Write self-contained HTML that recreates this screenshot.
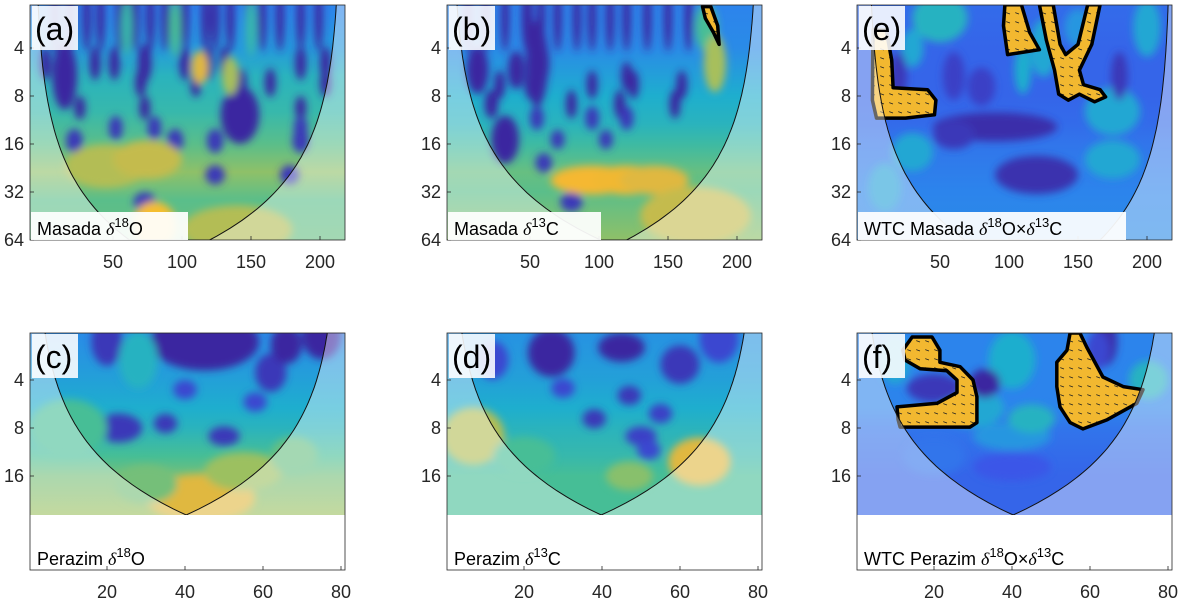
<!DOCTYPE html>
<html><head><meta charset="utf-8">
<style>
html,body{margin:0;padding:0;background:#fff;}
svg{display:block;font-family:"Liberation Sans",sans-serif;}
</style></head>
<body>
<svg id="fig" width="1184" height="600" viewBox="0 0 1184 600">
<defs>
<filter id="blur" x="-20%" y="-20%" width="140%" height="140%"><feGaussianBlur stdDeviation="4"/></filter>
</defs>
</svg>
<script>
// ---------- DATA ----------
const topXTicks=[50,100,150,200];
const topYTicks=[4,8,16,32,64];
const botXTicks=[20,40,60,80];
const botYTicks=[4,8,16];

// panel (a) Masada d18O
const aBaseP=[2.2,4,6,10,16,24,36,64];
const aBaseV=[0.3,0.36,0.46,0.5,0.58,0.66,0.58,0.6];
const aBlobX=[8,19,31,41,55,66,77,88,102,117,124,135,149,158,171,186,199, 1,15,37,51,73,102,119,131,186,204, 15,70,110,142,164,204, 142,26,73,186, 52,80,186, 22,95,124,186, 37,124,178, 73, 113,135,45,75,80,140, 60,95,150];
const aBlobP=[2.6,2.6,2.6,2.6,2.6,2.6,2.6,2.6,2.6,2.6,2.6,2.6,2.6,2.6,2.6,2.6,2.6, 5,5,5,5,5,5,5,5,5,5, 6,6.6,6.6,6.6,6.6,6.6, 10.5,9.5,9.5,9.5, 12.7,12.7,12.7, 15.3,15.3,15.3,15.3, 25,25,25, 37, 5.3,6,22,20,52,55, 3,3,3];
const aBlobV=[0,0,0,0,0,0,0,0,0,0,0,0,0,0,0,0,0, 0,0,0,0,0,0,0,0,0,0, 0,0,0,0,0,0, 0,0,0,0, 0.05,0.05,0.05, 0.05,0.05,0.05,0.05, 0.05,0.05,0.05, 0.05, 0.8,0.7,0.72,0.75,0.92,0.72, 0.5,0.55,0.5];
const aBlobW=[3,3,3,3,3,3,3,3,3,3,3,3,3,3,3,3,3, 4,5,4,4,5,4,4,4,4,4, 9,4,4,5,4,4, 14,4,4,4, 5,5,5, 6,6,6,6, 7,7,7, 8, 6,6,30,25,16,40, 4,4,4];
const aBlobH=[0.7,0.7,0.7,0.7,0.7,0.7,0.7,0.7,0.7,0.7,0.7,0.7,0.7,0.7,0.7,0.7,0.7, 0.35,0.4,0.35,0.35,0.4,0.35,0.35,0.35,0.35,0.35, 0.7,0.3,0.3,0.3,0.3,0.3, 0.6,0.25,0.25,0.25, 0.25,0.25,0.25, 0.25,0.25,0.25,0.25, 0.2,0.2,0.2, 0.2, 0.35,0.4,0.45,0.4,0.5,0.5, 0.6,0.6,0.6];

// panel (b) Masada d13C
const bBaseP=[2.2,4,8,12,16,24,32,64];
const bBaseV=[0.3,0.32,0.42,0.46,0.52,0.6,0.58,0.66];
const bBlobX=[5,18,32,48,58,70,84,95,108,120,135,150,165, 12,40,55,60,120, 28,50,95,125,160, 22,80,115,155, 55,95,120, 32,70,105, 60,80, 95,120,140, 178,184,170];
const bBlobP=[2.6,2.6,2.6,2.6,2.6,2.6,2.6,2.6,2.6,2.6,2.6,2.6,2.6, 5.5,5.5,5,5,6, 6.8,6.8,6.8,6.8,6.8, 9,9,9,9, 11,11,11, 15,15,15, 21,37, 27,27,27, 3,5,45];
const bBlobV=[0,0,0,0,0,0,0,0,0,0,0,0,0, 0,0,0,0,0, 0,0,0,0,0, 0,0,0,0, 0.05,0.05,0.05, 0,0.05,0.05, 0.05,0.05, 0.9,0.88,0.8, 0.55,0.7,0.75];
const bBlobW=[3,3,3,4,3,3,3,3,3,3,3,3,3, 8,6,8,4,4, 4,4,4,4,4, 5,4,4,4, 5,5,5, 10,5,5, 6,8, 30,25,25, 8,8,40];
const bBlobH=[0.7,0.7,0.7,0.7,0.7,0.7,0.7,0.7,0.7,0.7,0.7,0.7,0.7, 0.5,0.4,0.9,0.4,0.3, 0.3,0.3,0.3,0.3,0.3, 0.3,0.3,0.3,0.3, 0.25,0.25,0.25, 0.5,0.2,0.2, 0.2,0.2, 0.3,0.3,0.3, 0.5,0.6,0.6];

// panel (e) WTC Masada
const eBaseP=[2.2,4,8,12,16,24,32,64];
const eBaseV=[0.22,0.2,0.2,0.22,0.25,0.28,0.3,0.32];
const eBlobX=[50,30,110,125,90,120,60,30,175,10,150,200,80,175,20,60,180];
const eBlobP=[2.6,4,5.5,4,12.5,25,14,18,10,30,3,3,7,20,6,6,6];
const eBlobV=[0.45,0.4,0.42,0.4,0.02,0.03,0.05,0.4,0.4,0.38,0.35,0.4,0.08,0.4,0.05,0.08,0.05];
const eBlobW=[20,8,6,10,45,30,15,15,20,12,10,10,10,20,6,8,6];
const eBlobH=[0.5,0.4,0.5,0.6,0.3,0.4,0.3,0.4,0.5,0.5,0.4,0.6,0.4,0.4,0.5,0.5,0.5];
const eRegX=[[1.4,11,15,16,41,47,46,25,4,1],[97,109,115,122,99,96],[122,132,137,141,150,157,166,160,151,154,166,170,162,151,143,136,133,127]];
const eRegP=[[3.08,3.08,4.76,7.1,7.3,8.5,10.5,11,11,8.5],[2.14,2.14,3.2,4.1,4.4,2.9],[2.14,2.14,3.8,4.4,3.8,2.14,2.14,3.8,5.5,6.8,7.3,8.1,8.7,7.8,8.5,7.8,5.5,3.56]];

// panel (c) Perazim d18O
const cBaseP=[2,4,6,8,12,16,28];
const cBaseV=[0.32,0.38,0.42,0.46,0.55,0.62,0.68];
const cBlobX=[45,20,62,66,75,23,35,50,40,58,10,44,55,68,30,28];
const cBlobP=[2.3,2.3,3.6,2.4,2.1,8,7.5,9,4.6,5.5,8,22,15,12,18,3];
const cBlobV=[0,0.05,0.05,0,0,0.05,0.05,0.05,0.1,0.1,0.55,0.8,0.68,0.6,0.62,0.45];
const cBlobW=[14,4,4,4,5,6,3,4,3,3,10,14,10,6,8,5];
const cBlobH=[0.6,0.5,0.4,0.4,0.5,0.3,0.2,0.2,0.2,0.2,0.6,0.5,0.4,0.4,0.4,0.6];

// panel (d) Perazim d13C
const dBaseP=[2,4,6,8,12,16,28];
const dBaseV=[0.34,0.38,0.42,0.46,0.5,0.55,0.55];
const dBlobX=[27,45,60,47,38,55,12,30,50,7,65,47,70,20,52];
const dBlobP=[2.7,2.5,3.2,5,7,6.5,3,4.5,9,9,13,16,2.2,12,11];
const dBlobV=[0,0,0.05,0.05,0.05,0.08,0.1,0.1,0.08,0.72,0.8,0.65,0.1,0.55,0.1];
const dBlobW=[6,6,5,3,3,3,4,3,4,8,8,6,5,8,3];
const dBlobH=[0.5,0.3,0.4,0.2,0.2,0.2,0.4,0.2,0.2,0.6,0.5,0.3,0.5,0.4,0.2];

// panel (f) WTC Perazim
const fBaseP=[2,4,6,8,12,16,28];
const fBaseV=[0.3,0.3,0.3,0.25,0.22,0.2,0.2];
const fBlobX=[40,30,33,20,64,40,62,45,20,75,40,10];
const fBlobP=[3,6,4.2,4.5,2.3,9,2.6,7,12,4,14,3];
const fBlobV=[0.42,0.4,0.0,0.05,0.02,0.35,0.1,0.45,0.25,0.45,0.15,0.4];
const fBlobW=[6,8,4,7,3,10,3,6,8,5,10,4];
const fBlobH=[0.6,0.4,0.3,0.3,0.5,0.3,0.4,0.3,0.4,0.4,0.3,0.5];
const fRegX=[[14.4,19.5,21.5,21.5,26.7,30,31,31,29.2,11.3,10.8,10.5,20.8,25.9,25.9,23.3,16.4,12.6,12],[54.9,57.4,59.2,63.3,68.5,73.6,72,64.4,58.2,54.9,52.3,51.5,51.5,54.1]];
const fRegP=[[2.15,2.15,2.6,3.1,3.3,4,5.1,7.4,7.9,7.9,7.1,5.9,5.6,4.8,4,3.5,3.4,3.0,2.6],[2.03,2.03,2.5,3.83,4.4,4.6,5.6,7.1,8.1,7.4,5.9,4.4,3.1,2.6]];
const arrowAngle=[200];

// ---------- RENDER ----------
const NS='http://www.w3.org/2000/svg';
const svg=document.getElementById('fig');
const STOPS=[[0,[58,40,160]],[0.15,[58,86,232]],[0.3,[44,132,236]],[0.42,[30,174,206]],[0.55,[70,190,150]],[0.68,[156,192,96]],[0.8,[224,184,64]],[0.9,[245,184,48]],[1,[248,216,40]]];
function col(v){v=Math.max(0,Math.min(1,v));for(let i=1;i<STOPS.length;i++){if(v<=STOPS[i][0]){const a=STOPS[i-1],b=STOPS[i],t=(v-a[0])/(b[0]-a[0]);return 'rgb('+a[1].map((c,k)=>Math.round(c+(b[1][k]-c)*t)).join(',')+')';}}return 'rgb(248,216,40)';}
function el(tag,attrs,parent){const e=document.createElementNS(NS,tag);for(const k in attrs)e.setAttribute(k,attrs[k]);(parent||svg).appendChild(e);return e;}
let clipId=0;

function drawPanel(o){
  const g=el('g',{});
  
  
  const X=x=>o.px0+o.kx*x;
  const Y=p=>o.yRef+48*Math.log2(p/o.pRef);
  const cid='clip'+(clipId++);
  const cp=el('clipPath',{id:cid},g);
  el('rect',{x:o.L,y:o.T,width:o.W,height:o.HB-o.T},cp);
  const hm=el('g',{'clip-path':'url(#'+cid+')'},g);
  
  
  const gid='grad'+clipId;
  const lg=el('linearGradient',{id:gid,x1:0,y1:o.T,x2:0,y2:o.HB,gradientUnits:'userSpaceOnUse'},g);
  o.baseP.forEach((p,i)=>{const off=(Y(p)-o.T)/(o.HB-o.T);el('stop',{offset:Math.max(0,Math.min(1,off)),'stop-color':col(o.baseV[i])},lg);});
  el('rect',{x:o.L,y:o.T,width:o.W,height:o.HB-o.T,fill:'url(#'+gid+')'},hm);
  const bg=el('g',{filter:'url(#blur)'},hm);
  o.bx.forEach((x,i)=>{
    const e=el('ellipse',{cx:X(x),cy:Y(o.bp[i]),rx:o.bw[i]*o.kx,ry:o.bh[i]*48,fill:col(o.bv[i])},bg);
    
    
  });
  if(o.regX){
    o.regX.forEach((rx,ri)=>{
      const pts=rx.map((x,i)=>X(x).toFixed(1)+','+Y(o.regP[ri][i]).toFixed(1)).join(' ');
      const rc='rc'+(clipId++);
      const cpr=el('clipPath',{id:rc},g);
      el('polygon',{points:pts},cpr);
      const poly=el('polygon',{points:pts,fill:'#f2b830'},hm);
      
      
      const ag=el('g',{'clip-path':'url(#'+rc+')',stroke:'#222','stroke-width':0.8},hm);
      const a=arrowAngle[0]*Math.PI/180;
      for(let yy=o.T;yy<o.HB;yy+=9)for(let xx=o.L;xx<o.L+o.W;xx+=9){
        el('line',{x1:xx,y1:yy,x2:xx+4*Math.cos(a),y2:yy+4*Math.sin(a)},ag);
      }
      const ol=el('polygon',{points:pts,fill:'none',stroke:'#000','stroke-width':3.5,'stroke-linejoin':'round'},hm);
      
      
    });
  }
  const N=60,pts=[];
  for(let i=0;i<=N;i++){const p=o.pTop*Math.pow(o.pBot/o.pTop,i/N);pts.push([X(o.coiL(p)),Y(p)]);}
  const right=[];
  for(let i=N;i>=0;i--){const p=o.pTop*Math.pow(o.pBot/o.pTop,i/N);right.push([X(o.coiR(p)),Y(p)]);}
  const cone=pts.concat(right);
  const cd='M'+cone.map(q=>q[0].toFixed(1)+','+q[1].toFixed(1)).join('L');
  const outer='M'+o.L+','+o.T+'h'+o.W+'v'+(o.HB-o.T)+'h'+(-o.W)+'Z';
  const sh=el('path',{d:outer+cd+'Z',fill:'rgba(255,255,255,0.4)','fill-rule':'evenodd'},hm);
  
  
  const cl=el('path',{d:cd,fill:'none',stroke:'#111','stroke-width':1},hm);
  
  
  const fr=el('rect',{x:o.L,y:o.T,width:o.W,height:o.FB-o.T,fill:'none',stroke:'#262626','stroke-width':0.8},g);
  
  
  o.xt.forEach(t=>{
    el('line',{x1:X(t),x2:X(t),y1:o.FB,y2:o.FB-4,stroke:'#262626','stroke-width':0.8},g);
    const tx=el('text',{x:X(t),y:o.FB+28,'text-anchor':'middle','font-size':18,fill:'#262626'},g);
    tx.textContent=t;
    
    
  });
  o.yt.forEach(t=>{
    el('line',{x1:o.L,x2:o.L+4,y1:Y(t),y2:Y(t),stroke:'#262626','stroke-width':0.8},g);
    const tx=el('text',{x:o.L-6,y:Y(t)+6,'text-anchor':'end','font-size':18,fill:'#262626'},g);
    tx.textContent=t;
    
    
  });
  el('rect',{x:o.L+2,y:o.T+1,width:46,height:44,fill:'rgba(255,255,255,0.88)'},g);
  const lt=el('text',{x:o.L+5,y:o.T+35,'font-size':32,fill:'#000'},g);
  lt.textContent=o.letter;
  
  
  if(o.labelBox) el('rect',{x:o.L+1,y:o.FB-28,width:o.labelBox,height:28,fill:'rgba(255,255,255,0.93)'},g);
  const tl=el('text',{x:o.L+7,y:o.FB-5,'font-size':18,fill:'#000'},g);
  
  
  tl.innerHTML=o.label;
  return g;
}
const d='<tspan font-family="Liberation Serif" font-style="italic">δ</tspan>';
const sup=s=>'<tspan font-size="13" dy="-8">'+s+'</tspan><tspan dy="8">';
const topCfg=(L)=>({L:L,T:5,W:315,HB:240,FB:240,px0:L+14,kx:1.38,yRef:240,pRef:64,pTop:2.1,pBot:64,xt:topXTicks,yt:topYTicks});
const botCfg=(L)=>({L:L,T:333,W:315,HB:515,FB:570,px0:L-1,kx:3.9,yRef:380,pRef:4,pTop:2.0,pBot:28.1,xt:botXTicks,yt:botYTicks});
function lin(x0,x1,pb){return p=>x0+(x1-x0)*p/pb;}

drawPanel(Object.assign(topCfg(30),{name:'panel-a-masada-d18O',letter:'(a)',labelBox:157,label:'Masada '+d+sup('18')+'O</tspan>',
  baseP:aBaseP,baseV:aBaseV,bx:aBlobX,bp:aBlobP,bv:aBlobV,bw:aBlobW,bh:aBlobH,coiL:lin(-6.5,62,64),coiR:lin(215,120,64)}));
drawPanel(Object.assign(topCfg(447),{name:'panel-b-masada-d13C',letter:'(b)',labelBox:153,label:'Masada '+d+sup('13')+'C</tspan>',
  baseP:bBaseP,baseV:bBaseV,bx:bBlobX,bp:bBlobP,bv:bBlobV,bw:bBlobW,bh:bBlobH,coiL:lin(-6.5,101,64),coiR:lin(215,120,64),
  regX:[[175,181,186,187,183,177]],regP:[[2.2,2.2,2.9,3.8,3.2,2.6]]}));
drawPanel(Object.assign(topCfg(857),{name:'panel-e-wtc-masada',letter:'(e)',labelBox:268,label:'WTC Masada '+d+sup('18')+'O×'+d+sup('13')+'C</tspan></tspan>',
  baseP:eBaseP,baseV:eBaseV,bx:eBlobX,bp:eBlobP,bv:eBlobV,bw:eBlobW,bh:eBlobH,coiL:lin(-2,68,64),coiR:lin(217,166,64),regX:eRegX,regP:eRegP}));
drawPanel(Object.assign(botCfg(30),{name:'panel-c-perazim-d18O',letter:'(c)',label:'Perazim '+d+sup('18')+'O</tspan>',
  baseP:cBaseP,baseV:cBaseV,bx:cBlobX,bp:cBlobP,bv:cBlobV,bw:cBlobW,bh:cBlobH,coiL:lin(1.3,40.3,28.1),coiR:lin(79.3,40.3,28.1)}));
drawPanel(Object.assign(botCfg(447),{name:'panel-d-perazim-d13C',letter:'(d)',label:'Perazim '+d+sup('13')+'C</tspan>',
  baseP:dBaseP,baseV:dBaseV,bx:dBlobX,bp:dBlobP,bv:dBlobV,bw:dBlobW,bh:dBlobH,coiL:lin(1.3,39.8,28.1),coiR:lin(79.3,39.8,28.1)}));
drawPanel(Object.assign(botCfg(857),{name:'panel-f-wtc-perazim',letter:'(f)',label:'WTC Perazim '+d+sup('18')+'O×'+d+sup('13')+'C</tspan></tspan>',
  baseP:fBaseP,baseV:fBaseV,bx:fBlobX,bp:fBlobP,bv:fBlobV,bw:fBlobW,bh:fBlobH,coiL:lin(1.3,40.3,28.1),coiR:lin(79.3,40.3,28.1),regX:fRegX,regP:fRegP}));
</script>
</body></html>
